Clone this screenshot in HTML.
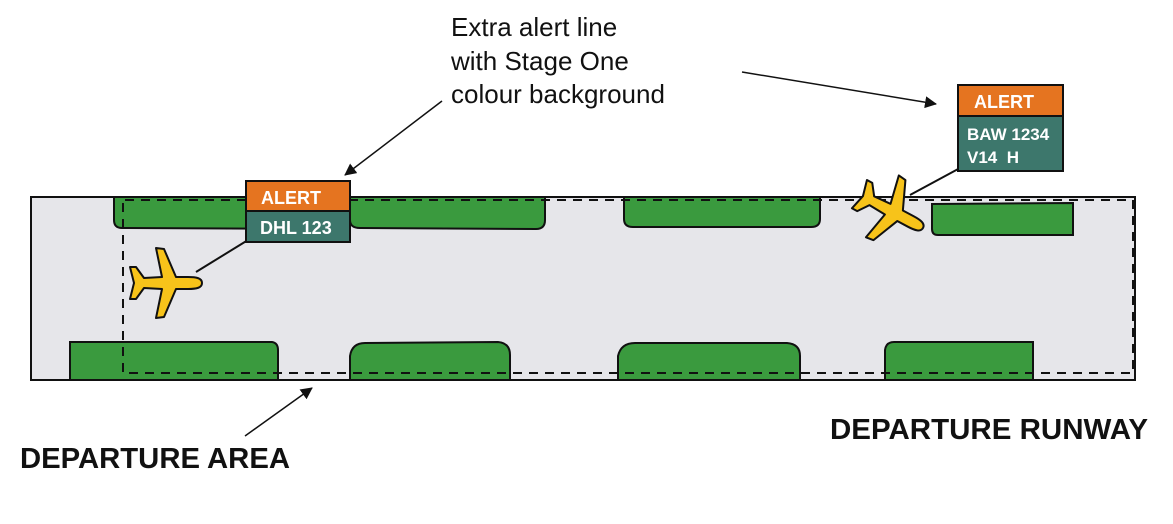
<!DOCTYPE html>
<html><head><meta charset="utf-8"><style>
html,body{margin:0;padding:0;background:#fff;width:1173px;height:524px;overflow:hidden}
svg text{font-family:"Liberation Sans",Arial,sans-serif}
</style></head><body>
<svg width="1173" height="524" viewBox="0 0 1173 524" xmlns="http://www.w3.org/2000/svg">
<defs>
<marker id="ah" markerWidth="12" markerHeight="12" refX="11" refY="6" orient="auto" markerUnits="userSpaceOnUse" viewBox="0 0 12 12">
<path d="M0,0 L12,6 L0,12 z" fill="#111"/></marker>
<g id="plane">
<path d="M34,0 C34,-5 28,-6 20,-6 L8,-6 L-4,-34 L-12,-35 L-6,-6 L-24,-5 L-32,-16 L-38,-16 L-34,0 L-38,16 L-32,16 L-24,5 L-6,6 L-12,35 L-4,34 L8,6 L20,6 C28,6 34,5 34,0 z" fill="#f7c31a" stroke="#111" stroke-width="2" stroke-linejoin="round"/>
</g>
</defs>
<rect x="31" y="197" width="1104" height="183" fill="#e6e6ea" stroke="#111" stroke-width="2"/>
<g fill="#3a9a3e" stroke="#111" stroke-width="2">
<path d="M114,197 L345,197 L345,222 Q345,229 337,229 L122,228 Q114,228 114,220 z"/>
<path d="M350,197 L545,197 L545,220 Q545,229 536,229 L360,228 Q350,228 350,220 z"/>
<path d="M624,197 L820,197 L820,219 Q820,227 811,227 L633,227 Q624,227 624,219 z"/>
<path d="M932,204 L1073,203 L1073,235 L938,235 Q932,235 932,229 z"/>
<path d="M70,342 L272,342 Q278,343 278,350 L278,380 L70,380 z"/>
<path d="M350,380 L350,356 Q352,343 365,343 L498,342 Q510,343 510,355 L510,380 z"/>
<path d="M618,380 L618,356 Q621,343 635,343 L787,343 Q800,344 800,356 L800,380 z"/>
<path d="M885,380 L885,350 Q886,342 894,342 L1033,342 L1033,380 z"/>
</g>
<path d="M123,203 L123,373 L1133,373 L1133,200 L123,200" fill="none" stroke="#111" stroke-width="2" stroke-dasharray="9,7"/>
<line x1="196" y1="272" x2="248" y2="240" stroke="#111" stroke-width="2"/>
<line x1="910" y1="195" x2="960" y2="168" stroke="#111" stroke-width="2"/>
<use href="#plane" transform="translate(168,283)"/>
<use href="#plane" transform="translate(893,212) rotate(28)"/>
<rect x="246" y="181" width="104" height="30" fill="#e57420" stroke="#111" stroke-width="2"/>
<rect x="246" y="211" width="104" height="31" fill="#3d776c" stroke="#111" stroke-width="2"/>
<text x="261" y="204" fill="#fff" font-size="18" font-weight="bold">ALERT</text>
<text x="260" y="234" fill="#fff" font-size="18" font-weight="bold">DHL 123</text>
<rect x="958" y="85" width="105" height="31" fill="#e57420" stroke="#111" stroke-width="2"/>
<rect x="958" y="116" width="105" height="55" fill="#3d776c" stroke="#111" stroke-width="2"/>
<text x="974" y="108" fill="#fff" font-size="18" font-weight="bold">ALERT</text>
<text x="967" y="140" fill="#fff" font-size="17" font-weight="bold">BAW 1234</text>
<text x="967" y="163" fill="#fff" font-size="17" font-weight="bold" xml:space="preserve">V14  H</text>
<text font-size="26" fill="#111"><tspan x="451" y="36">Extra alert line</tspan><tspan x="451" y="70">with Stage One</tspan><tspan x="451" y="103">colour background</tspan></text>
<line x1="442" y1="101" x2="345" y2="175" stroke="#111" stroke-width="1.5" marker-end="url(#ah)"/>
<line x1="742" y1="72" x2="936" y2="104" stroke="#111" stroke-width="1.5" marker-end="url(#ah)"/>
<line x1="245" y1="436" x2="312" y2="388" stroke="#111" stroke-width="1.5" marker-end="url(#ah)"/>
<text x="20" y="468" font-size="29" font-weight="bold" fill="#111" textLength="270" lengthAdjust="spacingAndGlyphs">DEPARTURE AREA</text>
<text x="830" y="439" font-size="29" font-weight="bold" fill="#111" textLength="318" lengthAdjust="spacingAndGlyphs">DEPARTURE RUNWAY</text>
</svg>
</body></html>
